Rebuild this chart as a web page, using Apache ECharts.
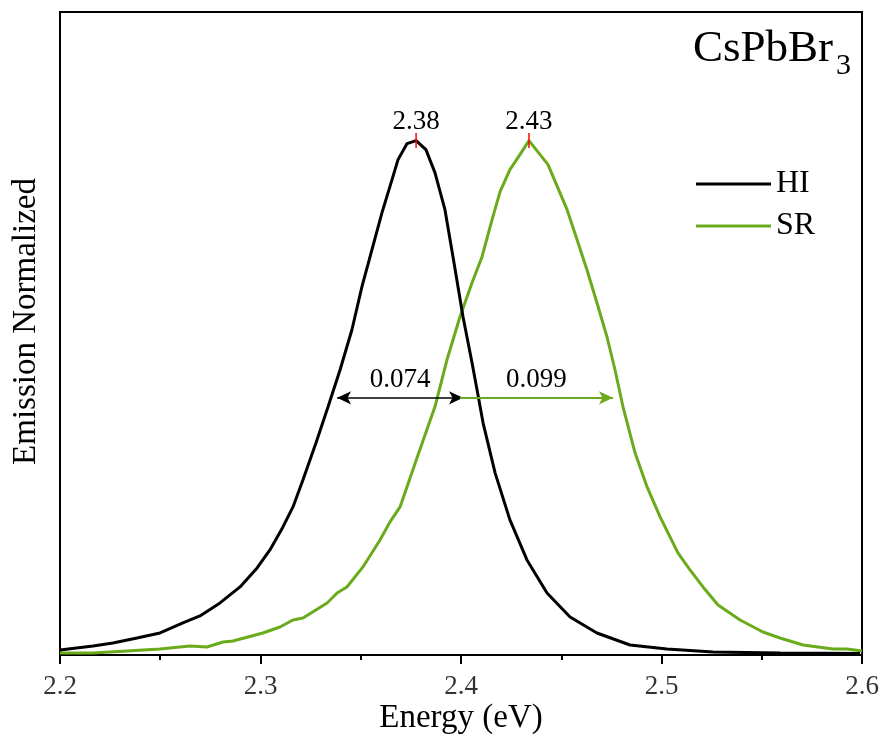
<!DOCTYPE html>
<html>
<head>
<meta charset="utf-8">
<script src="https://cdn.jsdelivr.net/npm/echarts@6/dist/echarts.min.js"></script>
<style>html,body{margin:0;padding:0;background:#fff;}#chart{width:880px;height:749px;}</style>
</head>
<body>
<div id="chart"></div>
<script>
const energyHI = [2.2000,2.2165,2.2264,2.2384,2.2499,2.2613,2.2698,2.2798,2.2898,2.2983,2.3047,2.3112,2.3162,2.3212,2.3277,2.3337,2.3397,2.3456,2.3506,2.3556,2.3606,2.3656,2.3686,2.3731,2.3776,2.3825,2.3870,2.3920,2.3960,2.4010,2.4055,2.4080,2.4110,2.4170,2.4244,2.4329,2.4429,2.4544,2.4678,2.4843,2.5027,2.5257,2.5591,2.5990];
const valuesHI = [0.0097,0.0175,0.0233,0.0331,0.0428,0.0623,0.0759,0.1012,0.1323,0.1693,0.2043,0.2490,0.2879,0.3405,0.4125,0.4825,0.5545,0.6323,0.7160,0.7879,0.8599,0.9241,0.9630,0.9942,1.0000,0.9825,0.9377,0.8658,0.7743,0.6576,0.5681,0.5156,0.4514,0.3541,0.2626,0.1848,0.1206,0.0739,0.0428,0.0195,0.0117,0.0058,0.0039,0.0029];
const energySR = [2.2000,2.2165,2.2334,2.2499,2.2648,2.2733,2.2813,2.2863,2.3012,2.3097,2.3162,2.3212,2.3332,2.3382,2.3431,2.3511,2.3596,2.3646,2.3696,2.3786,2.3870,2.3930,2.3995,2.4055,2.4105,2.4155,2.4195,2.4244,2.4294,2.4339,2.4434,2.4529,2.4579,2.4628,2.4678,2.4728,2.4768,2.4808,2.4868,2.4928,2.4993,2.5082,2.5142,2.5207,2.5282,2.5392,2.5506,2.5591,2.5706,2.5855,2.5925,2.6000];
const valuesSR = [0.0039,0.0039,0.0078,0.0117,0.0175,0.0156,0.0253,0.0272,0.0428,0.0545,0.0681,0.0720,0.1012,0.1206,0.1323,0.1712,0.2237,0.2588,0.2879,0.3891,0.4825,0.5739,0.6576,0.7237,0.7743,0.8463,0.9008,0.9436,0.9728,1.0000,0.9533,0.8658,0.8074,0.7490,0.6848,0.6187,0.5545,0.4825,0.3930,0.3268,0.2685,0.1984,0.1654,0.1323,0.0973,0.0681,0.0447,0.0331,0.0195,0.0117,0.0117,0.0078];
const seriesNames = ['HI', 'SR'];
const peakEnergies = [2.3776, 2.4339];
const peakLabels = ['2.38', '2.43'];
const fwhmHI = [2.3382, 2.4010];
const fwhmSR = [2.3995, 2.4758];
const fwhmLevel = 0.5;
const fwhmLabels = ['0.074', '0.099'];
const xTicks = [2.2, 2.3, 2.4, 2.5, 2.6];
const xTickLabels = ['2.2', '2.3', '2.4', '2.5', '2.6'];

const FONT = 'Liberation Serif';
const GREEN = '#6aab1b';
const zip = (a, b) => a.map((v, i) => [v, b[i]]);
const serif27 = {fontFamily: FONT, fontSize: 27, color: '#000'};

const chart = echarts.init(document.getElementById('chart'), null, {renderer: 'canvas'});
chart.setOption({
  animation: false,
  backgroundColor: '#fff',
  grid: {left: 60, right: 18, top: 12, bottom: 94, show: true, borderColor: '#000', borderWidth: 2, backgroundColor: 'transparent'},
  xAxis: {
    type: 'value', min: 2.2, max: 2.6, interval: 0.1,
    name: 'Energy (eV)', nameLocation: 'middle', nameGap: 47,
    nameTextStyle: {fontFamily: FONT, fontSize: 33, color: '#000'},
    axisLine: {show: true, lineStyle: {color: '#000', width: 2}},
    axisTick: {show: true, inside: false, length: 9, lineStyle: {color: '#000', width: 2}},
    minorTick: {show: true, splitNumber: 2, length: 5, lineStyle: {color: '#000', width: 2}},
    axisLabel: {show: false},
    splitLine: {show: false}
  },
  yAxis: {
    type: 'value', min: 0, max: 1.25,
    name: 'Emission Normalized', nameLocation: 'middle', nameGap: 17,
    nameTextStyle: {fontFamily: FONT, fontSize: 33, color: '#000', padding: [0, 0, 0, 24]},
    axisLine: {show: false}, axisTick: {show: false}, axisLabel: {show: false}, splitLine: {show: false}
  },
  legend: {
    data: seriesNames.map(n => ({name: n, icon: 'rect'})), orient: 'vertical', left: 696, top: 168, padding: 0,
    itemWidth: 75, itemHeight: 3, itemGap: 10,
    textStyle: {fontFamily: FONT, fontSize: 32, color: '#000'}, selectedMode: false
  },
  graphic: [
    {type: 'text', x: 833, y: 49, style: {text: 'CsPbBr', font: '45px "Liberation Serif"', fill: '#000', textAlign: 'right', textVerticalAlign: 'middle'}},
    {type: 'text', x: 836, y: 66, style: {text: '3', font: '30px "Liberation Serif"', fill: '#000', textAlign: 'left', textVerticalAlign: 'middle'}}
  ],
  series: [
    {
      name: seriesNames[0], type: 'line', data: zip(energyHI, valuesHI), symbol: 'none', smooth: false,
      lineStyle: {color: '#000', width: 3}, itemStyle: {color: '#000'}, z: 3,
      markLine: {
        silent: true, symbol: ['arrow', 'arrow'], symbolSize: [10, 14],
        lineStyle: {color: '#000', width: 1.5, type: 'solid'},
        label: {show: true, position: 'middle', formatter: fwhmLabels[0], fontFamily: FONT, fontSize: 27, color: '#000', distance: 4},
        data: [[{coord: [fwhmHI[0], fwhmLevel]}, {coord: [fwhmHI[1], fwhmLevel]}]]
      }
    },
    {
      name: seriesNames[1], type: 'line', data: zip(energySR, valuesSR), symbol: 'none', smooth: false,
      lineStyle: {color: GREEN, width: 3}, itemStyle: {color: GREEN}, z: 2,
      markLine: {
        silent: true, symbol: ['none', 'arrow'], symbolSize: [10, 14],
        lineStyle: {color: GREEN, width: 2, type: 'solid'},
        label: {show: true, position: 'middle', formatter: fwhmLabels[1], fontFamily: FONT, fontSize: 27, color: '#000', distance: 4},
        data: [[{coord: [fwhmSR[0], fwhmLevel]}, {coord: [fwhmSR[1], fwhmLevel]}]]
      }
    },
    {
      name: 'peaks', type: 'scatter', data: peakEnergies.map((e, i) => ({value: [e, 1.0], name: peakLabels[i]})),
      symbol: 'rect', symbolSize: [1.5, 15], itemStyle: {color: '#ff0000', opacity: 1}, z: 5,
      label: {show: true, position: 'top', distance: -2, formatter: p => '{t|' + p.name + '}', rich: {t: serif27}, color: '#000'}
    },
    {
      name: 'ticklabels', type: 'scatter', silent: true, clip: false,
      data: xTicks.map((x, i) => ({value: [x, 0], name: xTickLabels[i]})),
      symbol: 'circle', symbolSize: 1, itemStyle: {color: 'rgba(0,0,0,0)'}, z: 1,
      label: {show: true, position: 'bottom', distance: 18, formatter: p => '{t|' + p.name + '}', rich: {t: serif27}, color: '#000'}
    }
  ]
});
</script>
</body>
</html>
